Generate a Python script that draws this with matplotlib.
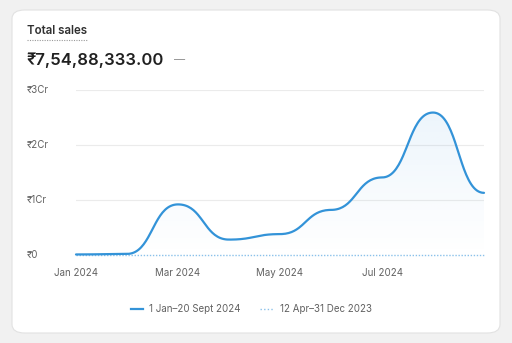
import numpy as np
import matplotlib
matplotlib.use("Agg")
import matplotlib.pyplot as plt
from matplotlib.patches import FancyBboxPatch, Polygon
from matplotlib.lines import Line2D

plt.rcParams['font.family'] = ['Inter', 'DejaVu Sans']

# monthly sales in crore, Jan..Sep 2024
months = ['Jan', 'Feb', 'Mar', 'Apr', 'May', 'Jun', 'Jul', 'Aug', 'Sep']
sales = [0.01, 0.02, 0.92, 0.28, 0.38, 0.82, 1.41, 2.59, 1.13]
prev_sales = [0, 0, 0, 0, 0, 0, 0, 0, 0]
tick_labels = ['Jan 2024', 'Mar 2024', 'May 2024', 'Jul 2024']
tick_pos = [0, 2, 4, 6]
y_ticks = [0, 1, 2, 3]
y_labels = ['₹0', '₹1Cr', '₹2Cr', '₹3Cr']
total_text = '₹7,54,88,333.00'
legend_cur = '1 Jan–20 Sept 2024'
legend_prev = '12 Apr–31 Dec 2023'

BLUE = '#3393d8'
LIGHT = '#8ac1ea'
GRAY = '#616161'
W, H = 512, 343


def bump_x(xs, ys, n=40):
    # cubic bezier per segment, horizontal tangents at every point
    px, py = [xs[0]], [ys[0]]
    t = np.linspace(0, 1, n)[1:]
    for i in range(len(xs) - 1):
        x0, x1, y0, y1 = xs[i], xs[i + 1], ys[i], ys[i + 1]
        xm = (x0 + x1) / 2
        bx = (1-t)**3*x0 + 3*(1-t)**2*t*xm + 3*(1-t)*t**2*xm + t**3*x1
        by = (1-t)**3*y0 + 3*(1-t)**2*t*y0 + 3*(1-t)*t**2*y1 + t**3*y1
        px.extend(bx)
        py.extend(by)
    return np.array(px), np.array(py)


fig = plt.figure(figsize=(W/100, H/100), dpi=100)
fig.patch.set_facecolor('#f1f1f1')

card = FancyBboxPatch((12/W, (H-333)/H), 488/W, 323/H,
                      boxstyle='round,pad=0,rounding_size=0.025',
                      transform=fig.transFigure, facecolor='white',
                      edgecolor='#e2e2e2', linewidth=0.8, zorder=-5)
fig.patches.append(card)

# header
fig.text(27/W, 1-31/H, 'Total sales', fontsize=8.3, fontweight='semibold',
         color='#303030', va='center', ha='left')
fig.lines.append(Line2D([27/W, 88/W], [1-39.5/H]*2, transform=fig.transFigure,
                        color='#9a9a9a', lw=0.8, ls=(0, (1, 1.2))))
fig.text(26/W, 1-60/H, total_text, fontsize=12, fontweight='semibold',
         color='#202020', va='center', ha='left')
fig.text(174/W, 1-60/H, '—', fontsize=8, color='#8a8a8a', va='center', ha='left')

ax = fig.add_axes([76/W, 1-255/H, (484-76)/W, (255-90)/H])
ax.patch.set_alpha(0)
for s in ax.spines.values():
    s.set_visible(False)

x = np.arange(len(sales))
cx, cy = bump_x(x, sales)

# gradient fill under the line
grad = np.zeros((100, 2, 4))
grad[..., :3] = matplotlib.colors.to_rgb('#4a9ee0')
grad[..., 3] = np.linspace(0.0, 0.10, 100)[:, None]
img = ax.imshow(grad, extent=[0, 8, 0, 2.6], origin='lower', aspect='auto', zorder=1)
poly = Polygon(np.column_stack([np.r_[cx, cx[-1], cx[0]], np.r_[cy, 0, 0]]),
               closed=True, transform=ax.transData, facecolor='none', edgecolor='none')
ax.add_patch(poly)
img.set_clip_path(poly)
ax.set_xlim(0, 8)
ax.set_ylim(0, 3)

for v in y_ticks[1:]:
    ax.axhline(v, color='#ebebeb', lw=0.8, zorder=0)

ax.plot(x, prev_sales, color=LIGHT, lw=1.0, ls=(0, (1, 1.2)), zorder=2, clip_on=False)
ax.plot(cx, cy, color=BLUE, lw=1.6, zorder=3, clip_on=False, solid_capstyle='round')

ax.set_xticks(tick_pos)
ax.set_xticklabels(tick_labels)
ax.set_yticks([])
ax.tick_params(axis='x', length=0, pad=9, labelsize=7, labelcolor=GRAY)
for v, lab in zip(y_ticks, y_labels):
    fig.text(27/W, 1-(255-55*v)/H, lab, fontsize=7, color=GRAY, va='center', ha='left')

# legend
ly = 1-309/H
fig.lines.append(Line2D([131/W, 143/W], [ly, ly], transform=fig.transFigure,
                        color=BLUE, lw=1.6))
fig.text(149/W, ly, legend_cur, fontsize=7, color=GRAY, va='center', ha='left')
fig.lines.append(Line2D([260/W, 273/W], [ly, ly], transform=fig.transFigure,
                        color=LIGHT, lw=1.0, ls=(0, (1, 1.6))))
fig.text(280/W, ly, legend_prev, fontsize=7, color=GRAY, va='center', ha='left')

fig.savefig('out.png', dpi=100, facecolor=fig.get_facecolor())
